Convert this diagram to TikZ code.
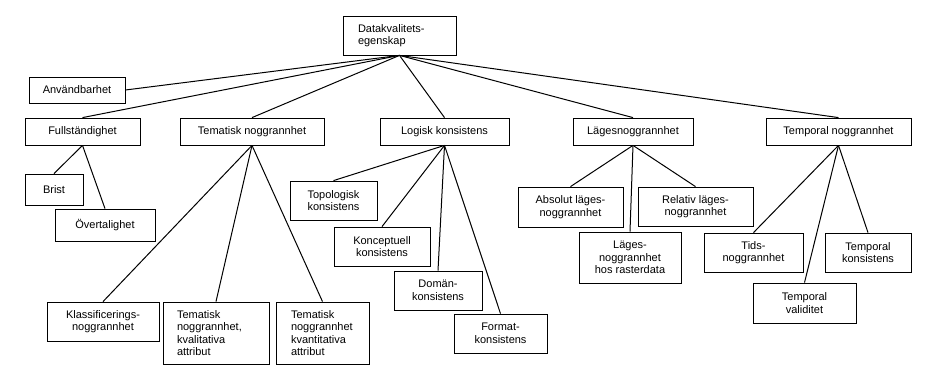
\documentclass[tikz,border=0pt]{standalone}
\usepackage{fontspec}
\setmainfont{Liberation Sans}
\usetikzlibrary{positioning}
\tikzset{
    qualbox/.style={draw, line width=0.8pt, align=center, inner xsep=2pt, inner ysep=2pt, font=\fontsize{11}{12.5}\selectfont},
    leftbox/.style={qualbox, align=left, inner xsep=15pt},
    treeline/.style={line width=1pt}
}
\begin{document}
\begin{tikzpicture}[x=1pt, y=-1pt]
            \useasboundingbox (0,0) rectangle (930,372);
            \node[leftbox, minimum width=113pt, minimum height=39pt, text width=83pt] (root) at (399.5,35.5) {Datakvalitets-\\egenskap};

            \node[qualbox, minimum width=96pt, minimum height=26pt] (anv) at (77,90) {Användbarhet};
            \node[qualbox, minimum width=115pt, minimum height=27pt] (full) at (82.5,131.5) {Fullständighet};
            \node[qualbox, minimum width=144pt, minimum height=27pt] (tema) at (252,131.5) {Tematisk noggrannhet};
            \node[qualbox, minimum width=129pt, minimum height=27pt] (logisk) at (444.5,131.5) {Logisk konsistens};
            \node[qualbox, minimum width=120pt, minimum height=27pt] (lages) at (633,131.5) {Lägesnoggrannhet};
            \node[qualbox, minimum width=145pt, minimum height=27pt] (temporal) at (838.5,131.5) {Temporal noggrannhet};

            \node[qualbox, minimum width=58pt, minimum height=31pt] (brist) at (54,189.5) {Brist};
            \node[qualbox, minimum width=100pt, minimum height=32pt] (over) at (105,225) {Övertalighet};

            \node[qualbox, minimum width=112pt, minimum height=39pt] (klass) at (103,321.5) {Klassificerings-\\noggrannhet};
            \node[leftbox, minimum width=106pt, minimum height=62pt, inner xsep=14pt, text width=78pt] (kval) at (216,333) {Tematisk\\noggrannhet,\\kvalitativa\\attribut};
            \node[leftbox, minimum width=93pt, minimum height=62pt, text width=63pt] (kvant) at (322.5,333) {Tematisk\\noggrannhet\\kvantitativa\\attribut};

            \node[qualbox, minimum width=87pt, minimum height=39pt] (topo) at (333.5,200.5) {Topologisk\\konsistens};
            \node[qualbox, minimum width=96pt, minimum height=39pt] (konc) at (382,246.5) {Konceptuell\\konsistens};
            \node[qualbox, minimum width=88pt, minimum height=39pt] (doman) at (438,290.5) {Domän-\\konsistens};
            \node[qualbox, minimum width=93pt, minimum height=39pt] (format) at (500.5,333.5) {Format-\\konsistens};

            \node[qualbox, minimum width=105pt, minimum height=40pt] (abs) at (570.5,207) {Absolut läges-\\noggrannhet};
            \node[qualbox, minimum width=102pt, minimum height=51pt] (raster) at (630,257.5) {Läges-\\noggrannhet\\hos rasterdata};
            \node[qualbox, minimum width=115pt, minimum height=39pt] (rel) at (695.5,206.5) {Relativ läges-\\noggrannhet};

            \node[qualbox, minimum width=99pt, minimum height=39pt] (tids) at (753.5,252.5) {Tids-\\noggrannhet};
            \node[qualbox, minimum width=103pt, minimum height=40pt] (valid) at (804.5,303) {Temporal\\validitet};
            \node[qualbox, minimum width=86pt, minimum height=39pt] (tkons) at (868,252.5) {Temporal\\konsistens};

            \draw[treeline] (root.south) -- (anv.east);
            \foreach \child in {full, tema, logisk, lages, temporal}
                \draw[treeline] (root.south) -- (\child.north);
            \foreach \child in {brist, over}
                \draw[treeline] (full.south) -- (\child.north);
            \foreach \child in {klass, kval, kvant}
                \draw[treeline] (tema.south) -- (\child.north);
            \foreach \child in {topo, konc, doman, format}
                \draw[treeline] (logisk.south) -- (\child.north);
            \foreach \child in {abs, raster, rel}
                \draw[treeline] (lages.south) -- (\child.north);
            \foreach \child in {tids, valid, tkons}
                \draw[treeline] (temporal.south) -- (\child.north);
        \end{tikzpicture}
\end{document}
